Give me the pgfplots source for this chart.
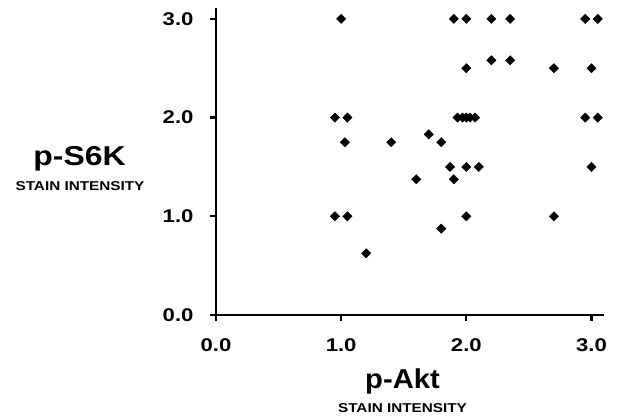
\documentclass[border=0pt]{standalone}
\usepackage{pgfplots}
\pgfplotsset{compat=1.18}
\usepackage{fontspec}
\setmainfont{Liberation Sans}
\newfontfamily\tickfont[FakeStretch=1.2]{Liberation Sans}
\begin{document}
\begin{tikzpicture}[x=1bp,y=1bp]
\useasboundingbox (0,0) rectangle (618,418);
\begin{axis}[
  at={(216bp,103bp)}, anchor=south west,
  scale only axis, width=388bp, height=307bp,
  xmin=0, xmax=3.1, ymin=0, ymax=3.11,
  axis x line*=bottom, axis y line*=left,
  axis line style={line width=2.2bp,-},
  xtick={0,1,2,3}, ytick={0,1,2,3},
  tick style={line width=2.2bp,black},
  tick align=outside, major tick length=6bp,
  /pgf/number format/assume math mode=true,
  /pgf/number format/fixed, /pgf/number format/fixed zerofill,
  /pgf/number format/precision=1,
  ticklabel style={font=\tickfont\bfseries\fontsize{18.5}{18.5}\selectfont},
  xticklabel style={yshift=-14bp},
  yticklabel style={xshift=-13bp},
  clip=false,
]
\addplot[only marks, mark=square*, mark size=3.3bp, mark options={rotate=45,fill=black,draw=black}] coordinates {
(1.0,3.0) (0.95,2.0) (1.05,2.0) (1.03,1.75) (1.4,1.75) (1.6,1.375) (0.95,1.0) (1.05,1.0) (1.2,0.625)
(1.9,3) (2.0,3) (2.2,3) (2.35,3) (2.95,3) (3.05,3)
(2.2,2.58) (2.35,2.58)
(2.0,2.5) (2.7,2.5) (3.0,2.5)
(1.93,2) (1.97,2) (2.0,2) (2.03,2) (2.07,2) (2.95,2) (3.05,2)
(1.7,1.83) (1.8,1.75)
(1.87,1.5) (2.0,1.5) (2.1,1.5) (3.0,1.5)
(1.9,1.375)
(2.0,1.0) (2.7,1.0)
(1.8,0.875)
};
\end{axis}
\node[anchor=base, font=\bfseries\fontsize{27.4}{27.4}\selectfont, inner sep=0] at (402.5,29.7) {\scalebox{1.07}[1]{p-Akt}};
\node[anchor=base, font=\bfseries\fontsize{12.9}{12.9}\selectfont, inner sep=0] at (402.5,6) {\scalebox{1.19}[1]{STAIN INTENSITY}};
\node[anchor=base, font=\bfseries\fontsize{27.4}{27.4}\selectfont, inner sep=0] at (79.5,253) {\scalebox{1.17}[1]{p-S6K}};
\node[anchor=base, font=\bfseries\fontsize{12.9}{12.9}\selectfont, inner sep=0] at (80,228) {\scalebox{1.19}[1]{STAIN INTENSITY}};
\end{tikzpicture}
\end{document}
